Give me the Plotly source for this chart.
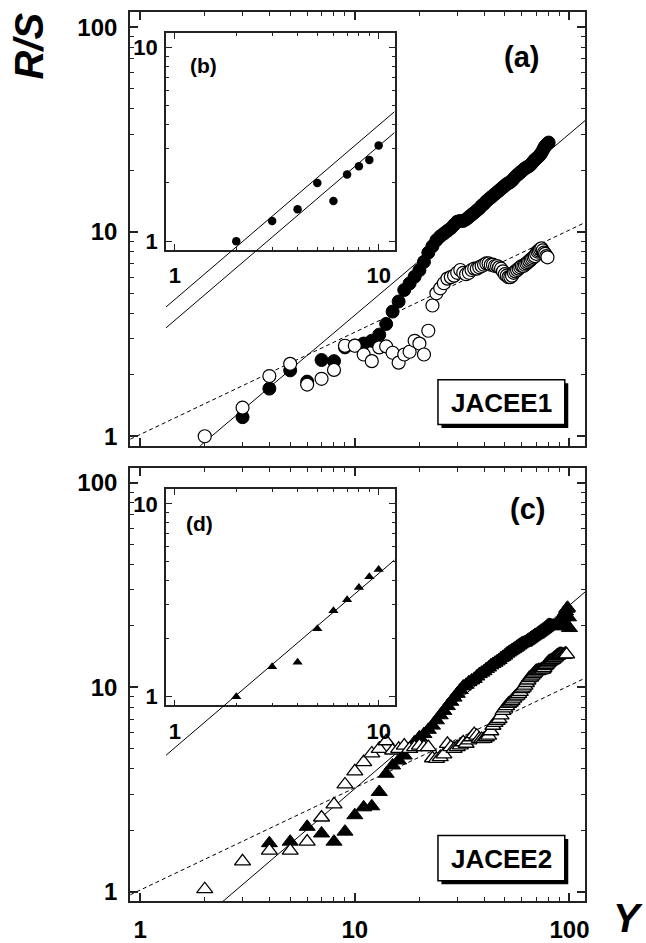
import numpy as np
import plotly.graph_objects as go

# ---------------- data ----------------
a_filled_x = [3, 4, 5, 6, 7, 8, 9, 10, 11, 12, 13, 14, 15, 16, 17, 18, 19, 20, 21, 22, 23, 24, 25, 26, 27, 28, 29, 30,
              31, 32, 33, 34, 35, 36, 37, 38, 39, 40, 41, 42, 43, 44, 45, 46, 47, 48, 49, 50, 51, 52, 53, 54, 55, 56,
              57, 58, 59, 60, 61, 62, 63, 64, 65, 66, 67, 68, 69, 70, 71, 72, 73, 74, 75, 76, 77, 78, 79, 80]
a_filled_y = [1.24, 1.71, 2.10, 1.85, 2.36, 2.33, 2.72, 2.78, 2.84, 2.93, 3.14, 3.54, 4.07, 4.56, 5.19, 5.59, 6.03,
              6.49, 7.13, 7.9, 8.5, 9.1, 9.5, 9.8, 10.1, 10.4, 10.8, 11.2, 11.3, 11.3, 11.5, 11.8, 12.1, 12.4, 12.7,
              13.0, 13.4, 13.7, 14.1, 14.4, 14.7, 15.0, 15.3, 15.6, 15.9, 16.2, 16.5, 16.8, 17.1, 17.3, 17.5, 17.8,
              18.2, 18.6, 18.9, 19.2, 19.5, 19.8, 20.1, 20.4, 20.6, 20.8, 21.0, 21.3, 21.7, 22.1, 22.5, 22.8, 23.1,
              23.4, 23.8, 24.3, 24.9, 25.6, 26.2, 26.6, 27.0, 27.3]

a_open_x = [2, 3, 4, 5, 6, 7, 8, 9, 10, 11, 12, 13, 14, 15, 16, 17, 18, 19, 20, 21, 22, 23, 24, 25, 26, 27, 28, 29,
            30, 31, 32, 33, 34, 35, 36, 37, 38, 39, 40, 41, 42, 43, 44, 45, 46, 47, 48, 49, 50, 51, 52, 53, 54, 55,
            56, 57, 58, 59, 60, 61, 62, 63, 64, 65, 66, 67, 68, 69, 70, 71, 72, 73, 74, 75, 76, 77, 78, 79]
a_open_y = [1.0, 1.38, 1.97, 2.26, 1.79, 1.91, 2.11, 2.77, 2.77, 2.51, 2.33, 2.72, 2.75, 2.56, 2.29, 2.51, 2.59,
            2.93, 2.84, 2.51, 3.28, 4.36, 5.0, 5.29, 5.6, 5.9, 6.0, 6.1, 6.3, 6.5, 6.3, 6.2, 6.3, 6.5, 6.6, 6.6, 6.7,
            6.8, 6.9, 7.0, 7.0, 6.9, 6.9, 6.8, 6.8, 6.7, 6.6, 6.4, 6.2, 6.1, 6.0, 6.0, 6.1, 6.3, 6.4, 6.5, 6.6, 6.7,
            6.8, 6.8, 6.9, 7.0, 7.1, 7.2, 7.3, 7.4, 7.5, 7.6, 7.8, 8.0, 8.1, 8.2, 8.3, 8.1, 7.9, 7.8, 7.6, 7.5]

c_filled_x = [4, 5, 6, 7, 8, 9, 10, 11, 12, 13, 14, 15, 16, 17, 18, 19, 20, 21, 22, 23, 24, 25, 26, 27, 28, 29, 30,
              31, 32, 33, 34, 35, 36, 37, 38, 39, 40, 41, 42, 43, 44, 45, 46, 47, 48, 49, 50, 51, 52, 53, 54, 55, 56,
              57, 58, 59, 60, 61, 62, 63, 64, 65, 66, 67, 68, 69, 70, 71, 72, 73, 74, 75, 76, 77, 78, 79, 80, 81, 82,
              83, 84, 85, 86, 87, 88, 89, 90, 91, 92, 93, 94, 95, 96, 97, 98, 99, 100]
c_filled_y = [1.73, 1.76, 2.08, 1.93, 1.76, 1.97, 2.37, 2.59, 2.62, 3.08, 3.78, 4.15, 4.39, 4.64, 5.0, 5.4, 5.7,
              5.91, 6.2, 6.5, 6.9, 7.3, 7.67, 8.1, 8.5, 8.91, 9.3, 9.7, 10.1, 10.3, 10.6, 10.8, 11.0, 11.3, 11.6,
              11.8, 12.0, 12.3, 12.5, 12.8, 13.0, 13.2, 13.4, 13.6, 13.9, 14.1, 14.3, 14.6, 14.8, 15.0, 15.2, 15.4,
              15.6, 15.8, 16.0, 16.2, 16.4, 16.5, 16.6, 16.8, 17.0, 17.2, 17.4, 17.6, 17.8, 18.0, 18.1, 18.3, 18.5,
              18.7, 18.9, 19.1, 19.3, 19.5, 19.7, 20.0, 20.2, 20.2, 20.1, 20.0, 20.0, 19.9, 20.1, 20.3, 20.5, 20.4,
              19.9, 20.0, 20.6, 21.3, 22.0, 22.8, 23.5, 24.2, 24.5, 22.0, 19.5]

c_open_x = [2, 3, 4, 5, 6, 7, 8, 9, 10, 11, 12, 13, 14, 15, 16, 17, 18, 19, 20, 21, 22, 23, 24, 25, 26, 27, 28, 29,
            30, 31, 32, 33, 34, 35, 36, 37, 38, 39, 40, 41, 42, 43, 44, 45, 46, 47, 48, 49, 50, 51, 52, 53, 54, 55,
            56, 57, 58, 59, 60, 61, 62, 63, 64, 65, 66, 67, 68, 69, 70, 71, 72, 73, 74, 75, 76, 77, 78, 79, 80, 81,
            82, 83, 84, 85, 86, 87, 88, 89, 90, 91, 92, 93, 94, 95, 96, 97]
c_open_y = [1.03, 1.41, 1.59, 1.59, 1.76, 2.31, 2.68, 3.35, 3.88, 4.31, 4.75, 5.0, 5.45, 4.91, 5.0, 5.19, 5.0, 5.1,
            5.19, 5.1, 5.1, 4.5, 4.47, 4.56, 4.7, 5.29, 5.1, 5.0, 5.1, 5.2, 5.39, 5.3, 5.5, 5.7, 5.91, 5.8, 5.6,
            5.59, 5.6, 5.7, 5.8, 6.1, 6.49, 6.7, 6.85, 7.0, 7.3, 7.67, 7.9, 8.1, 8.3, 8.43, 8.6, 8.8, 9.0, 9.1, 9.3,
            9.5, 9.8, 9.97, 10.2, 10.5, 10.8, 11.1, 11.2, 11.4, 11.6, 11.8, 12.0, 12.0, 12.1, 12.1, 12.2, 12.2, 12.4,
            12.7, 12.9, 13.1, 13.3, 13.4, 13.5, 13.6, 13.7, 13.9, 14.0, 14.2, 14.3, 14.4, 14.5, 14.5, 14.5, 14.4,
            14.4, 14.5, 14.6, 14.5]

b_x = [2, 3, 4, 5, 6, 7, 8, 9, 10]
b_y = [1.0, 1.27, 1.46, 2.0, 1.61, 2.21, 2.44, 2.63, 3.12]
d_x = [2, 3, 4, 5, 6, 7, 8, 9, 10]
d_y = [1.0, 1.43, 1.51, 2.25, 2.79, 3.18, 3.68, 4.19, 4.57]

# power-law fit parameters (coefficient, exponent)
fit_a_solid = (0.507, 0.887)
fit_a_dash = (1.02, 0.5)
fit_c_solid = (0.405, 0.897)
fit_c_dash = (1.02, 0.5)
fit_b_upper = (0.50, 0.90)
fit_b_lower = (0.39, 0.90)
fit_d = (0.55, 0.90)

main_ticks = [1, 10, 100]
inset_ticks = [1, 10]

# ---------------- layout geometry ----------------
W, H = 646, 943
def fx(p):
    return p / W
def fy(p):
    return 1 - p / H

MAIN_XR = [-0.0463, 2.074]
MAIN_YR = [-0.046, 2.075]
INS_XR = [-0.044, 1.078]
INS_YR = [-0.045, 1.077]
ins_dec = (251.7 - 33) / (INS_YR[1] - INS_YR[0])

FONT = "Liberation Sans, Arial, sans-serif"
FRAME = "#222222"

fig = go.Figure()

def powline(params, lo, hi, n=60):
    a, k = params
    xs = np.logspace(lo, hi, n)
    return xs, a * xs ** k

mx_lo, mx_hi = MAIN_XR
# panel (a)
xs, ys = powline(fit_a_dash, mx_lo, mx_hi)
fig.add_trace(go.Scatter(x=xs, y=ys, mode="lines", line=dict(color="black", width=1, dash="4px,3px"),
                         xaxis="x", yaxis="y", showlegend=False))
xs, ys = powline(fit_a_solid, mx_lo, mx_hi)
fig.add_trace(go.Scatter(x=xs, y=ys, mode="lines", line=dict(color="black", width=1),
                         xaxis="x", yaxis="y", showlegend=False))
fig.add_trace(go.Scatter(x=a_filled_x, y=a_filled_y, mode="markers", xaxis="x", yaxis="y",
                         marker=dict(symbol="circle", size=13, color="black", line=dict(color="black", width=1)),
                         showlegend=False))
fig.add_trace(go.Scatter(x=a_open_x, y=a_open_y, mode="markers", xaxis="x", yaxis="y",
                         marker=dict(symbol="circle", size=13, color="white", line=dict(color="black", width=1.2)),
                         showlegend=False))
# panel (c)
xs, ys = powline(fit_c_dash, mx_lo, mx_hi)
fig.add_trace(go.Scatter(x=xs, y=ys, mode="lines", line=dict(color="black", width=1, dash="4px,3px"),
                         xaxis="x2", yaxis="y2", showlegend=False))
xs, ys = powline(fit_c_solid, mx_lo, mx_hi)
fig.add_trace(go.Scatter(x=xs, y=ys, mode="lines", line=dict(color="black", width=1),
                         xaxis="x2", yaxis="y2", showlegend=False))
fig.add_trace(go.Scatter(x=c_filled_x, y=c_filled_y, mode="markers", xaxis="x2", yaxis="y2",
                         marker=dict(symbol="triangle-up", size=14, color="black", line=dict(color="black", width=1)),
                         showlegend=False))
fig.add_trace(go.Scatter(x=c_open_x, y=c_open_y, mode="markers", xaxis="x2", yaxis="y2",
                         marker=dict(symbol="triangle-up", size=14, color="white", line=dict(color="black", width=1.3)),
                         showlegend=False))
# inset (b) markers
fig.add_trace(go.Scatter(x=b_x, y=b_y, mode="markers", xaxis="x3", yaxis="y3",
                         marker=dict(symbol="circle", size=8.5, color="black"), showlegend=False))
# inset (d) markers
fig.add_trace(go.Scatter(x=d_x, y=d_y, mode="markers", xaxis="x4", yaxis="y4",
                         marker=dict(symbol="triangle-up", size=9, color="black"), showlegend=False))
# inset fit lines on overlay axes (extend below the inset frame, as in the original)
for p in (fit_b_upper, fit_b_lower):
    xs, ys = powline(p, INS_XR[0], INS_XR[1])
    fig.add_trace(go.Scatter(x=xs, y=ys, mode="lines", line=dict(color="black", width=1),
                             xaxis="x5", yaxis="y5", showlegend=False))
xs, ys = powline(fit_d, INS_XR[0], INS_XR[1])
fig.add_trace(go.Scatter(x=xs, y=ys, mode="lines", line=dict(color="black", width=1),
                         xaxis="x6", yaxis="y6", showlegend=False))

minor_main = [2, 3, 4, 5, 6, 7, 8, 9, 20, 30, 40, 50, 60, 70, 80, 90]
minor_ins = [2, 3, 4, 5, 6, 7, 8, 9]

def main_axis(domain, rng, labels, anchor, standoff):
    return dict(type="log", domain=domain, range=rng, anchor=anchor,
                tickmode="array", tickvals=main_ticks, ticktext=[str(v) for v in main_ticks],
                ticks="inside", ticklen=8, tickwidth=1.5, tickcolor=FRAME,
                minor=dict(tickmode="array", tickvals=minor_main, ticks="inside", ticklen=4,
                           tickwidth=1, tickcolor=FRAME, showgrid=False),
                showline=True, linewidth=2, linecolor=FRAME, mirror="allticks",
                showgrid=False, zeroline=False, showticklabels=labels,
                tickfont=dict(family=FONT, size=24, color="black", weight="bold"),
                ticklabelstandoff=standoff)

def inset_axis(domain, rng, anchor, standoff):
    return dict(type="log", domain=domain, range=rng, anchor=anchor,
                tickmode="array", tickvals=inset_ticks, ticktext=[str(v) for v in inset_ticks],
                ticks="inside", ticklen=6, tickwidth=1.2, tickcolor=FRAME,
                minor=dict(tickmode="array", tickvals=minor_ins, ticks="inside", ticklen=3,
                           tickwidth=1, tickcolor=FRAME, showgrid=False),
                showline=True, linewidth=1.5, linecolor=FRAME, mirror="allticks",
                showgrid=False, zeroline=False, showticklabels=True,
                tickfont=dict(family=FONT, size=22, color="black", weight="bold"),
                ticklabelstandoff=standoff)

def hidden_axis(domain, rng, anchor):
    return dict(type="log", domain=domain, range=rng, anchor=anchor, visible=False,
                showgrid=False, zeroline=False, fixedrange=True)

main_xd = [fx(131), fx(589)]
top_yd = [fy(449), fy(12)]
bot_yd = [fy(908), fy(471)]
ins_xd = [fx(167), fx(397)]
b_yd = [fy(251.7), fy(33)]
d_yd = [fy(710.7), fy(492.7)]
ov_b_yd = [fy(449), fy(33)]
ov_d_yd = [fy(908), fy(492.7)]
ov_b_yr = [INS_YR[1] - (449 - 33) / ins_dec, INS_YR[1]]
ov_d_yr = [INS_YR[1] - (908 - 492.7) / ins_dec, INS_YR[1]]

fig.update_layout(
    width=W, height=H, margin=dict(l=0, r=0, t=0, b=0),
    paper_bgcolor="white", plot_bgcolor="rgba(0,0,0,0)",
    xaxis=main_axis(main_xd, MAIN_XR, False, "y", 6),
    yaxis=main_axis(top_yd, MAIN_YR, True, "x", 6),
    xaxis2=main_axis(main_xd, MAIN_XR, True, "y2", 6),
    yaxis2=main_axis(bot_yd, MAIN_YR, True, "x2", 6),
    xaxis3=inset_axis(ins_xd, INS_XR, "y3", 5),
    yaxis3=inset_axis(b_yd, INS_YR, "x3", 2),
    xaxis4=inset_axis(ins_xd, INS_XR, "y4", 5),
    yaxis4=inset_axis(d_yd, INS_YR, "x4", 2),
    xaxis5=hidden_axis(ins_xd, INS_XR, "y5"),
    yaxis5=hidden_axis(ov_b_yd, ov_b_yr, "x5"),
    xaxis6=hidden_axis(ins_xd, INS_XR, "y6"),
    yaxis6=hidden_axis(ov_d_yd, ov_d_yr, "x6"),
)

def ann(text, x, y, size, italic=False, angle=0):
    fig.add_annotation(text=text, x=fx(x), y=fy(y), xref="paper", yref="paper",
                       xanchor="center", yanchor="middle", showarrow=False, textangle=angle,
                       font=dict(family=FONT, size=size, color="black", weight="bold",
                                 style="italic" if italic else "normal"))

ann("R/S", 29, 46, 40, italic=True, angle=-90)
ann("Y", 632, 925, 40, italic=True)
ann("(a)", 525, 57, 29)
ann("(c)", 531, 513, 29)
ann("(b)", 205, 66, 21)
ann("(d)", 201, 527, 21)

# labelled boxes with drop shadow
for label, (x0, y0, x1, y1) in (("JACEE1", (440.7, 382.7, 568.3, 427.7)),
                                ("JACEE2", (440.7, 841.7, 568.3, 887.3))):
    fig.add_shape(type="rect", xref="paper", yref="paper",
                  x0=fx(x0 + 3.5), x1=fx(x1 + 3.5), y0=fy(y0 + 3.5), y1=fy(y1 + 3.5),
                  fillcolor="black", line=dict(width=0), layer="above")
    fig.add_shape(type="rect", xref="paper", yref="paper",
                  x0=fx(x0), x1=fx(x1), y0=fy(y0), y1=fy(y1),
                  fillcolor="white", line=dict(color="black", width=1.5), layer="above")
    ann(label, (x0 + x1) / 2, (y0 + y1) / 2 + 1, 26)

fig.write_html("out.html")
